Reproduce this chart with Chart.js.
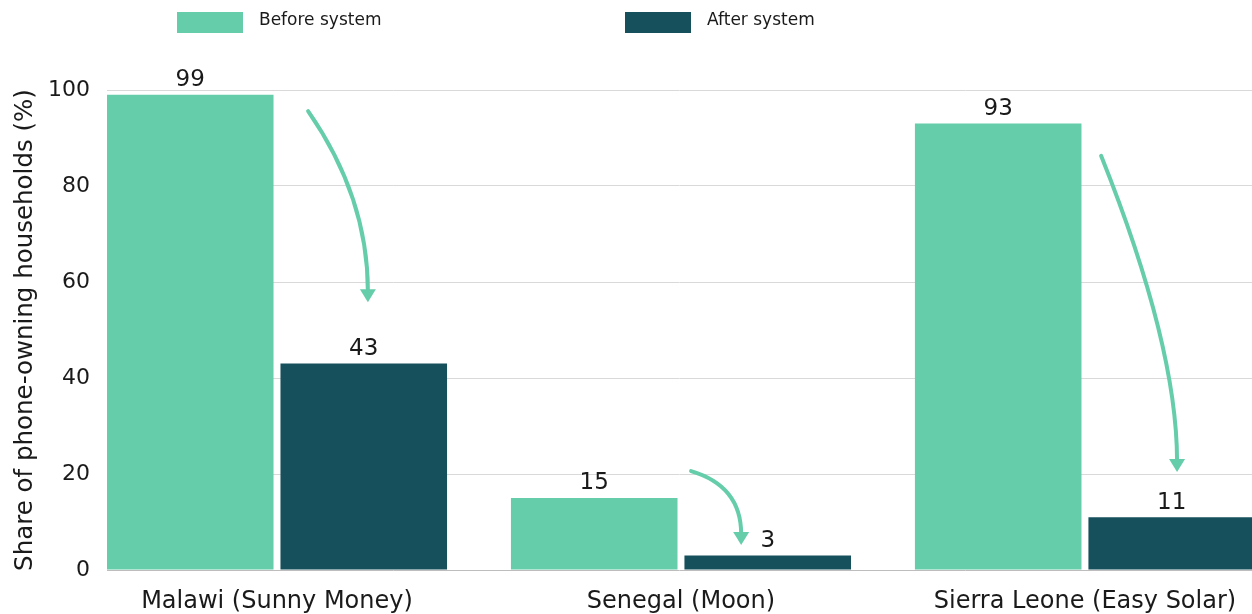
<!DOCTYPE html>
<html lang="en">
<head>
  <meta charset="UTF-8">
  <title>Phone-owning households</title>
  <script src="https://cdn.jsdelivr.net/npm/chart.js"></script>
  <style>
    body { margin: 0; background: #fff; }
  </style>
</head>
<body>
  <canvas id="graphic" width="1252" height="614"></canvas>

  <script>
    const categories = ['Malawi (Sunny Money)', 'Senegal (Moon)', 'Sierra Leone (Easy Solar)'];
    const beforeSystem = [99, 15, 93];
    const afterSystem = [43, 3, 11];
    const yTicks = [0, 20, 40, 60, 80, 100];

    // curved arrows: x in category units, y in percent
    const arrows = [
      { x0: 0.077, y0: 95.6, x1: 0.225, y1: 55.8, bend: 0.45 },
      { x0: 1.025, y0: 20.6, x1: 1.149, y1: 5.2, bend: 0.2 },
      { x0: 2.04, y0: 86.3, x1: 2.228, y1: 20.4, bend: 0.6 }
    ];

    const FONT = '"DejaVu Sans", sans-serif';
    const TEXT = '#1a1a1a';

    const valueLabels = {
      id: 'valueLabels',
      afterDatasetsDraw(chart) {
        const ctx = chart.ctx;
        ctx.save();
        ctx.font = '23px ' + FONT;
        ctx.fillStyle = TEXT;
        ctx.textAlign = 'center';
        ctx.textBaseline = 'bottom';
        chart.data.datasets.forEach((ds, i) => {
          chart.getDatasetMeta(i).data.forEach((bar, j) => {
            ctx.fillText(ds.data[j].y, bar.x, bar.y - 3);
          });
        });
        ctx.restore();
      }
    };

    const arrowLayer = {
      id: 'arrowLayer',
      afterDatasetsDraw(chart) {
        const ctx = chart.ctx;
        const xs = chart.scales.x, ys = chart.scales.y;
        ctx.save();
        ctx.strokeStyle = '#66CDAA';
        ctx.fillStyle = '#66CDAA';
        ctx.lineWidth = 4;
        ctx.lineCap = 'round';
        arrows.forEach(a => {
          const sx = xs.getPixelForValue(a.x0), sy = ys.getPixelForValue(a.y0);
          const ex = xs.getPixelForValue(a.x1), ey = ys.getPixelForValue(a.y1);
          const cx = ex, cy = sy + (ey - sy) * a.bend;
          const head = 13;
          ctx.beginPath();
          ctx.moveTo(sx, sy);
          ctx.quadraticCurveTo(cx, cy, ex, ey - head + 2);
          ctx.stroke();
          ctx.beginPath();
          ctx.moveTo(ex - 8, ey - head);
          ctx.lineTo(ex + 8, ey - head);
          ctx.lineTo(ex, ey);
          ctx.closePath();
          ctx.fill();
        });
        ctx.restore();
      }
    };

    const topLegend = {
      id: 'topLegend',
      afterDraw(chart) {
        const ctx = chart.ctx;
        const spots = [177, 625];
        ctx.save();
        ctx.font = '17px ' + FONT;
        ctx.textBaseline = 'middle';
        ctx.textAlign = 'left';
        chart.data.datasets.forEach((ds, i) => {
          const x = spots[i];
          ctx.fillStyle = ds.backgroundColor;
          ctx.fillRect(x, 12, 66, 21);
          ctx.fillStyle = TEXT;
          ctx.fillText(ds.label, x + 82, 21);
        });
        ctx.restore();
      }
    };

    const lienzo = document.getElementById('graphic');
    new Chart(lienzo, {
      type: 'bar',
      data: {
        datasets: [
          {
            label: 'Before system',
            backgroundColor: '#66CDAA',
            data: beforeSystem.map((v, i) => ({ x: i, y: v }))
          },
          {
            label: 'After system',
            backgroundColor: '#16505C',
            data: afterSystem.map((v, i) => ({ x: i, y: v }))
          }
        ]
      },
      options: {
        responsive: false,
        animation: false,
        categoryPercentage: 0.859,
        barPercentage: 0.96,
        layout: { padding: { top: 90, right: 0, left: 0, bottom: 0 } },
        plugins: {
          legend: { display: false },
          tooltip: { enabled: false }
        },
        scales: {
          x: {
            type: 'linear',
            offset: false,
            min: -0.4208,
            max: 2.4135,
            afterBuildTicks: s => { s.ticks = categories.map((c, i) => ({ value: i })); },
            afterFit: s => { s.height = 44; },
            grid: { display: false },
            border: { display: false },
            ticks: {
              autoSkip: false,
              maxRotation: 0,
              padding: 9,
              color: TEXT,
              font: { family: FONT, size: 24 },
              callback: v => categories[v]
            }
          },
          y: {
            min: 0,
            max: 100,
            afterBuildTicks: s => { s.ticks = yTicks.map(v => ({ value: v })); },
            afterFit: s => { s.width = 107; },
            border: { display: false },
            grid: {
              drawTicks: false,
              color: c => c.tick && c.tick.value === 0 ? '#bdbdbd' : '#d9d9d9',
              lineWidth: 1
            },
            ticks: {
              padding: 17,
              color: TEXT,
              font: { family: FONT, size: 22 }
            },
            title: {
              display: true,
              text: 'Share of phone-owning households (%)',
              color: TEXT,
              font: { family: FONT, size: 24.5 },
              padding: { top: 11, bottom: 0 }
            }
          }
        }
      },
      plugins: [valueLabels, arrowLayer, topLegend]
    });
  </script>
</body>
</html>
